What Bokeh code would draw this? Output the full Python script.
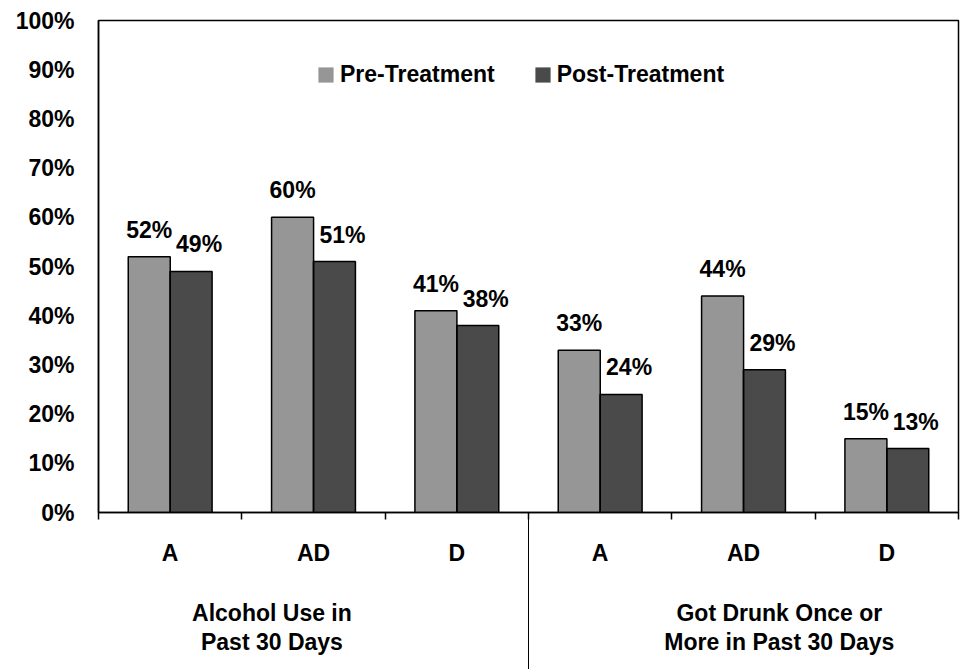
import numpy as np
from bokeh.plotting import figure
from bokeh.models import (Range1d, FixedTicker, LinearAxis, PrintfTickFormatter,
                          Legend, LegendItem, ColumnDataSource)
from bokeh.embed import file_html
from bokeh.resources import INLINE
from bokeh.core.properties import value

# ---------------- data ----------------
categories = ["A", "AD", "D", "A", "AD", "D"]
group_labels = ["Alcohol Use in\nPast 30 Days", "Got Drunk Once or\nMore in Past 30 Days"]
series_names = ["Pre-Treatment", "Post-Treatment"]
pre_treatment = [52, 60, 41, 33, 44, 15]
post_treatment = [49, 51, 38, 24, 29, 13]
y_ticks = [0, 10, 20, 30, 40, 50, 60, 70, 80, 90, 100]

# ---------------- style / layout ----------------
FONT = "Liberation Sans"
FS = "23px"
PRE_COLOR = "#969696"
POST_COLOR = "#4a4a4a"
BAR_W = 0.293
HALF = 0.146
GROUP_POS = [1.21, 4.75]   # label anchor positions (layout)
DIVIDER = [3]

n = len(categories)
idx = np.arange(n)
pre_x = idx + 0.5 - HALF
post_x = idx + 0.5 + HALF

src = ColumnDataSource(dict(
    pre_x=pre_x, post_x=post_x,
    pre=pre_treatment, post=post_treatment,
    pre_lbl=[f"{v}%" for v in pre_treatment],
    post_lbl=[f"{v}%" for v in post_treatment],
))

p = figure(width=961, height=669, output_backend="svg", toolbar_location=None,
           x_range=Range1d(0, n), y_range=Range1d(0, 100),
           min_border_left=98, min_border_right=3, min_border_top=20,
           min_border_bottom=157)
p.xgrid.visible = False
p.ygrid.visible = False
p.outline_line_color = "black"
p.outline_line_width = 1.5
p.background_fill_color = "white"
p.border_fill_color = "white"

# fills (used by the legend) and outlines drawn separately
r_pre = p.vbar(x="pre_x", top="pre", bottom=0, width=BAR_W, source=src,
               fill_color=PRE_COLOR, line_alpha=0)
r_post = p.vbar(x="post_x", top="post", bottom=0, width=BAR_W, source=src,
                fill_color=POST_COLOR, line_alpha=0)
p.vbar(x="pre_x", top="pre", bottom=0, width=BAR_W, source=src,
       fill_alpha=0, line_color="black", line_width=1.5)
p.vbar(x="post_x", top="post", bottom=0, width=BAR_W, source=src,
       fill_alpha=0, line_color="black", line_width=1.5)

p.text(x="pre_x", y="pre", text="pre_lbl", source=src,
       text_font=value(FONT), text_font_size=FS, text_font_style="bold",
       text_color="black", text_align="center", text_baseline="alphabetic",
       y_offset=-27)
p.text(x="post_x", y="post", text="post_lbl", source=src,
       text_font=value(FONT), text_font_size=FS, text_font_style="bold",
       text_color="black", text_align="center", text_baseline="alphabetic",
       x_offset=8, y_offset=-27)

# ---------------- y axis ----------------
ya = p.yaxis[0]
ya.ticker = FixedTicker(ticks=y_ticks)
ya.formatter = PrintfTickFormatter(format="%d%%")
ya.major_tick_out = 0
ya.major_tick_in = 0
ya.minor_tick_out = 0
ya.minor_tick_in = 0
ya.major_label_standoff = 24
ya.major_label_text_font = FONT
ya.major_label_text_font_size = FS
ya.major_label_text_font_style = "bold"
ya.major_label_text_color = "black"
ya.axis_line_color = "black"
ya.axis_line_width = 1.5

# ---------------- x axis (categories) ----------------
xa = p.xaxis[0]
xa.ticker = FixedTicker(ticks=[float(i + 0.5) for i in idx],
                        minor_ticks=[float(i) for i in range(n + 1)])
xa.major_label_overrides = {float(i + 0.5): c for i, c in zip(idx, categories)}
xa.major_tick_out = 0
xa.major_tick_in = 0
xa.minor_tick_out = 7
xa.minor_tick_in = 0
xa.minor_tick_line_color = "black"
xa.minor_tick_line_width = 1.5
xa.major_label_standoff = 20
xa.major_label_text_font = FONT
xa.major_label_text_font_size = FS
xa.major_label_text_font_style = "bold"
xa.major_label_text_color = "black"
xa.axis_line_color = "black"
xa.axis_line_width = 1.5

# ---------------- group axis ----------------
ga = LinearAxis(ticker=FixedTicker(ticks=GROUP_POS, minor_ticks=[float(d) for d in DIVIDER]))
ga.major_label_overrides = {pos: lab for pos, lab in zip(GROUP_POS, group_labels)}
ga.axis_line_color = None
ga.major_tick_out = 0
ga.major_tick_in = 0
ga.minor_tick_in = 55
ga.minor_tick_out = 102
ga.minor_tick_line_color = "black"
ga.minor_tick_line_width = 1
ga.major_label_standoff = -71
ga.major_label_text_font = FONT
ga.major_label_text_font_size = FS
ga.major_label_text_font_style = "bold"
ga.major_label_text_color = "black"
ga.major_label_text_line_height = 1.13
p.add_layout(ga, "below")

# ---------------- legend ----------------
legend = Legend(items=[LegendItem(label=series_names[0], renderers=[r_pre]),
                       LegendItem(label=series_names[1], renderers=[r_post])],
                orientation="horizontal", location=(218, 424),
                glyph_width=19, glyph_height=19, label_standoff=5, spacing=38,
                padding=0, margin=0, border_line_alpha=0, background_fill_alpha=0,
                label_text_font=FONT, label_text_font_size=FS,
                label_text_font_style="bold", label_text_color="black",
                label_height=19)
p.add_layout(legend)

open("out.html", "w").write(file_html(p, INLINE))
